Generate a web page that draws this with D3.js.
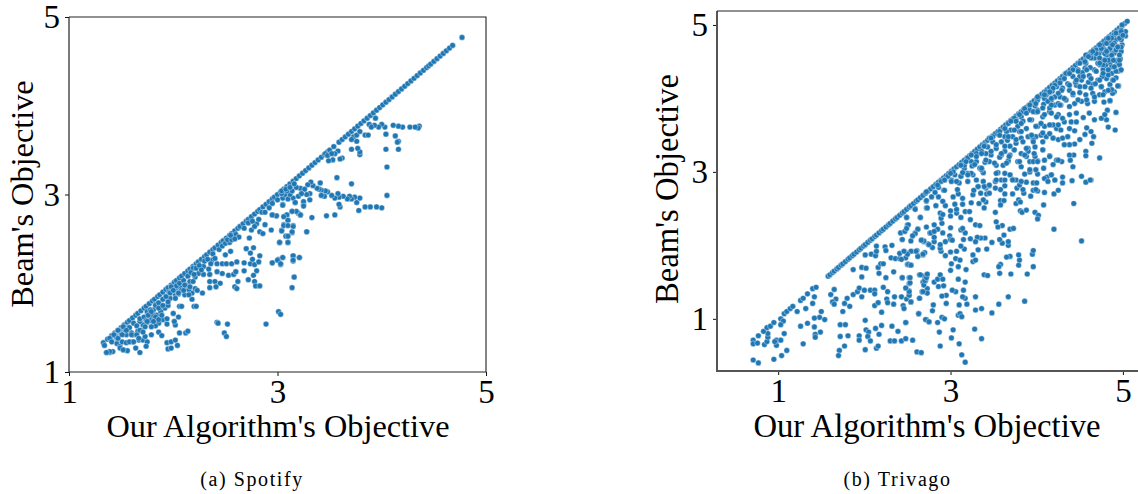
<!DOCTYPE html>
<html><head><meta charset="utf-8">
<script src="https://cdn.jsdelivr.net/npm/d3@7"></script>
<style>html,body{margin:0;padding:0;background:#fff}svg{display:block}</style>
</head><body><svg id="c" width="1138" height="494"></svg>
<script>
const xLabel = "Our Algorithm's Objective";
const yLabel = "Beam's Objective";
const tickVals = [1,3,5];
const captions = ["(a) Spotify","(b) Trivago"];

const spotifyDiagonal = [1.33,1.37,1.41,1.44,1.47,1.50,1.53,1.56,1.58,1.61,1.64,1.66,1.69,1.72,1.74,1.77,1.80,1.82,1.85,1.87,1.90,1.93,1.95,1.98,2.01,2.03,2.06,2.08,2.11,2.14,2.16,2.19,2.22,2.24,2.27,2.30,2.32,2.35,2.38,2.40,2.43,2.46,2.48,2.51,2.54,2.56,2.59,2.62,2.64,2.67,2.70,2.72,2.75,2.78,2.81,2.83,2.86,2.89,2.92,2.95,2.97,3.00,3.03,3.06,3.09,3.12,3.15,3.18,3.21,3.24,3.27,3.30,3.33,3.36,3.39,3.42,3.45,3.48,3.50,3.54,3.59,3.62,3.65,3.68,3.71,3.74,3.77,3.80,3.83,3.86,3.89,3.92,3.95,3.98,4.01,4.04,4.07,4.10,4.13,4.16,4.19,4.22,4.25,4.28,4.31,4.34,4.37,4.40,4.43,4.45,4.47,4.50,4.53,4.56,4.59,4.62,4.65,4.68,4.77];
const spotifyBelow = [[1.34,1.30],[1.36,1.22],[1.39,1.22],[1.42,1.23],[1.40,1.36],[1.44,1.42],[1.46,1.38],[1.46,1.32],[1.49,1.29],[1.51,1.34],[1.52,1.25],[1.56,1.24],[1.55,1.33],[1.61,1.34],[1.64,1.27],[1.68,1.22],[1.67,1.36],[1.71,1.36],[1.75,1.34],[1.74,1.29],[1.79,1.42],[1.86,1.45],[1.89,1.41],[1.94,1.33],[1.98,1.34],[2.02,1.36],[1.95,1.26],[1.98,1.27],[2.04,1.30],[2.06,1.44],[2.12,1.44],[2.14,1.46],[2.20,1.74],[2.22,1.74],[2.06,1.74],[2.08,1.74],[2.42,1.56],[2.43,1.55],[2.52,1.54],[2.49,1.44],[2.51,1.40],[2.89,1.54],[3.01,1.68],[3.03,1.65],[3.14,1.95],[3.16,2.07],[2.00,1.66],[2.05,1.62],[2.02,1.53],[2.01,1.57],[1.94,1.54],[1.90,1.59],[1.86,1.55],[1.83,1.52],[1.79,1.51],[1.75,1.56],[1.71,1.53],[1.68,1.57],[1.70,1.47],[1.62,1.42],[1.55,1.42],[1.52,1.47],[1.48,1.47],[1.57,1.50],[1.79,1.62],[1.84,1.64],[1.81,1.70],[1.87,1.72],[1.92,1.72],[1.95,1.75],[1.83,1.76],[1.76,1.66],[2.18,1.82],[2.28,1.89],[2.18,1.89],[2.21,1.94],[2.11,1.87],[2.02,1.87],[1.97,1.83],[2.02,1.92],[2.07,1.95],[2.15,1.93],[2.35,2.02],[2.40,2.02],[2.45,2.00],[2.35,1.95],[2.41,1.96],[2.59,1.96],[2.61,1.94],[2.62,2.02],[2.53,2.09],[2.58,2.10],[2.60,2.13],[2.47,2.11],[2.42,2.13],[2.35,2.10],[2.29,2.10],[2.24,2.11],[2.21,2.07],[2.19,2.17],[2.29,2.19],[2.34,2.16],[2.42,2.22],[2.47,2.22],[2.51,2.22],[2.56,2.22],[2.61,2.24],[2.37,2.26],[2.50,2.32],[2.55,2.36],[2.68,2.14],[2.68,2.23],[2.74,2.22],[2.78,2.21],[2.82,2.24],[2.80,2.14],[2.77,2.09],[2.72,2.04],[2.78,2.02],[2.79,1.97],[2.83,1.97],[2.95,2.23],[3.01,2.27],[3.03,2.21],[3.05,2.29],[3.15,2.31],[3.21,2.29],[3.15,2.25],[2.77,2.40],[2.70,2.39],[2.74,2.34],[2.83,2.31],[2.76,2.27],[2.73,2.51],[2.75,2.60],[2.83,2.58],[2.86,2.56],[2.94,2.60],[2.80,2.67],[2.88,2.66],[2.95,2.77],[2.99,2.76],[3.04,2.60],[3.02,2.46],[3.10,2.46],[3.09,2.53],[3.14,2.57],[3.06,2.66],[3.15,2.65],[3.10,2.71],[3.09,2.77],[3.14,2.81],[3.20,2.79],[3.22,2.77],[3.28,2.58],[3.05,2.89],[3.17,2.91],[3.25,2.89],
[4.36,3.77],[4.35,3.75],[4.32,3.76],[4.27,3.76],[4.20,3.76],[4.16,3.77],[4.11,3.78],[4.03,3.76],[4.00,3.79],[3.97,3.76],[3.93,3.78],[3.88,3.79],[3.90,3.76],[3.94,3.86],[4.04,3.68],[4.13,3.66],[4.16,3.60],[4.15,3.59],[4.16,3.51],[4.04,3.51],[4.05,3.31],[4.05,2.99],[4.00,2.85],[3.95,2.86],[3.89,2.86],[3.84,2.86],[3.78,2.82],[3.76,2.91],[3.79,2.96],[3.74,2.97],[3.71,2.95],[3.69,2.98],[3.67,2.95],[3.63,2.98],[3.59,2.97],[3.58,3.01],[3.60,2.86],[3.59,2.89],[3.55,2.96],[3.52,2.99],[3.48,3.03],[3.46,3.04],[3.42,3.05],[3.40,3.06],[3.38,3.07],[3.34,3.10],[3.32,3.14],[3.29,3.11],[3.41,3.13],[3.57,3.19],[3.71,3.12],[3.45,2.98],[3.42,2.99],[3.31,3.01],[3.31,2.94],[3.25,2.92],[3.25,2.87],[3.28,3.00],[3.20,2.98],[3.15,2.96],[3.10,2.95],[3.05,2.88],[3.05,2.96],[3.17,2.91],[3.12,3.00],[3.07,3.00],[3.04,3.01],[3.22,3.07],[3.26,3.06],[3.18,3.08],[3.14,3.04],[3.09,3.04],[3.04,3.04],[3.23,3.01],[3.47,2.76],[3.55,2.77],[3.33,2.74],[3.22,2.77],[3.18,2.81],[3.14,2.81],[3.09,2.77],[3.06,2.75],[3.10,2.71],[2.99,2.76],[2.95,2.77],[3.06,2.65],[3.10,2.65],[3.15,2.64],[3.04,2.59],[3.14,2.58],[3.28,2.58],[3.08,2.53],[3.10,2.53],[3.02,2.46],[3.10,2.46],[3.05,2.29],[3.15,2.31],[3.15,2.26],[3.21,2.29],[3.00,2.26],[3.03,2.22],[2.95,2.23],[3.16,2.07],[3.58,3.49],[3.62,3.41],[3.60,3.40],[3.53,3.39],[3.49,3.38],[3.46,3.46],[3.55,3.46],[3.71,3.51],[3.79,3.45],[3.79,3.48],[3.77,3.52],[3.76,3.60],[3.73,3.65],[3.76,3.67],[3.84,3.67],[3.87,3.67],[3.79,3.71],[3.71,3.62]];
const spotifyBand = [[1.45,1.40],[1.50,1.43],[1.54,1.47],[1.58,1.50],[1.62,1.55],[1.65,1.52],[1.68,1.60],[1.72,1.62],[1.75,1.68],[1.78,1.70],[1.80,1.65],[1.83,1.75],[1.86,1.78],[1.90,1.82],[1.93,1.85],[1.96,1.90],[2.00,1.92],[2.03,1.97],[2.06,2.00],[2.08,1.92],[2.10,2.03],[2.12,1.98],[2.14,2.08],[2.17,2.12],[2.20,2.10],[2.22,2.17],[2.25,2.20],[2.27,2.15],[2.30,2.25],[2.33,2.27],[2.36,2.22],[2.38,2.33],[2.40,2.28],[2.44,2.38],[2.47,2.42],[2.50,2.45],[2.54,2.46],[2.57,2.52],[2.60,2.55],[2.63,2.52],[2.68,2.62],[2.72,2.68],[2.76,2.70],[2.78,2.64],[2.82,2.72],[2.85,2.80],[2.88,2.80],[2.92,2.85],[2.95,2.90],[3.00,2.94],[2.52,2.49],[2.56,2.49],[2.59,2.50],[2.55,2.54],[1.98,1.96],[2.05,1.88],[2.16,2.02],[1.88,1.68],[1.74,1.58],[1.60,1.44],[1.66,1.46],[1.78,1.58],[3.08,3.06],[3.12,3.08],[3.16,3.12],[3.48,3.44],[3.52,3.46]];
const spotifyCluster = [[1.39,1.38],[1.41,1.34],[1.43,1.42],[1.47,1.47],[1.47,1.38],[1.52,1.51],[1.51,1.42],[1.55,1.47],[1.60,1.42],[1.65,1.42],[1.68,1.47],[1.73,1.51],[1.67,1.38],[1.73,1.40],[1.71,1.45],[1.58,1.34],[1.62,1.34],[1.49,1.27],[1.52,1.25],[1.39,1.23],[1.36,1.22],[1.76,1.64],[1.79,1.68],[1.83,1.62],[1.86,1.59],[1.89,1.64],[1.94,1.60],[1.81,1.57],[1.75,1.57],[1.86,1.72],[1.90,1.75],[1.95,1.79],[1.97,1.89],[2.00,1.92],[2.05,1.89],[2.10,1.92],[2.15,1.87],[2.11,1.98],[2.16,1.96],[2.19,2.02],[2.23,1.92],[2.02,1.83]];

const trivagoDiagonal = [1.58,1.60,1.63,1.65,1.68,1.70,1.73,1.75,1.78,1.81,1.83,1.86,1.88,1.91,1.94,1.96,1.99,2.01,2.04,2.07,2.09,2.12,2.14,2.17,2.20,2.22,2.25,2.28,2.30,2.33,2.36,2.38,2.41,2.44,2.46,2.49,2.52,2.54,2.57,2.60,2.62,2.65,2.68,2.71,2.74,2.77,2.80,2.83,2.86,2.89,2.92,2.95,2.98,3.01,3.04,3.07,3.10,3.13,3.16,3.19,3.22,3.25,3.28,3.31,3.34,3.37,3.40,3.43,3.46,3.49,3.52,3.55,3.58,3.61,3.64,3.67,3.70,3.73,3.76,3.79,3.82,3.85,3.88,3.91,3.94,3.97,4.00,4.03,4.06,4.09,4.12,4.15,4.18,4.21,4.24,4.27,4.30,4.33,4.36,4.39,4.42,4.45,4.48,4.51,4.54,4.57,4.60,4.63,4.66,4.69,4.72,4.75,4.78,4.81,4.84,4.87,4.90,4.93,4.96,4.99,5.02,5.05];
const trivagoLow = [[0.71,0.44],[0.77,0.40],[0.95,0.45],[1.04,0.50],[1.10,0.57],[1.29,0.66],[0.98,0.64],[0.98,0.71],[1.03,0.71],[0.96,0.69],[1.07,0.80],[0.71,0.71],[0.71,0.66],[0.76,0.67],[0.77,0.77],[0.84,0.65],[0.87,0.69],[0.88,0.75],[0.88,0.80],[0.83,0.83],[0.87,0.88],[0.91,0.90],[0.95,0.95],[1.03,1.00],[1.06,0.97],[1.03,0.92],[1.07,1.07],[1.10,1.10],[1.14,1.14],[1.17,1.17],[1.22,1.10],[1.26,1.25],[1.29,1.28],[1.34,1.34],[1.40,1.41],[1.44,1.43],[1.42,1.30],[1.40,1.21],[1.32,1.14],[1.50,1.10],[1.48,1.02],[1.42,1.01],[1.54,0.99],[1.26,0.90],[1.34,0.94],[1.42,0.89],[1.43,0.79],[1.43,0.75],[1.49,0.82],[1.65,1.40],[1.61,1.33],[1.67,1.27],[1.63,1.23],[1.65,1.20],[1.75,1.10],[1.77,1.21],[1.80,1.28],[1.83,1.17],[1.87,1.33],[1.92,1.37],[1.94,1.42],[1.97,1.30],[2.00,1.39],[2.07,1.39],[2.12,1.39],[2.12,1.34],[2.12,1.18],[2.16,1.22],[2.22,1.43],[2.27,1.37],[2.26,1.27],[2.27,1.22],[2.35,1.30],[2.34,1.20],[2.20,1.09],[2.43,1.30],[2.45,1.18],[2.46,1.14],[2.49,1.27],[2.48,1.42],[2.52,1.38],[2.52,1.32],[2.54,1.23],[2.64,1.28],[2.63,1.07],[2.72,0.99],[2.75,0.96],[2.48,0.95],[2.67,1.37],[2.70,1.54],[2.73,1.60],[2.64,1.60],[2.52,1.56],[2.52,1.48],[2.44,1.56],[2.25,1.56],[2.17,1.62],[2.34,1.64],[2.16,1.70],[2.19,1.75],[2.22,1.75],[2.50,1.74],[2.54,1.73],[1.97,1.70],[2.02,1.69],[1.87,1.67],[1.97,1.57],[2.01,1.87],[2.08,1.88],[2.13,1.86],[2.14,1.92],[2.14,1.99],[2.24,1.98],[2.25,1.93],[2.32,2.00],[2.31,1.83],[2.36,1.82],[2.41,1.82],[2.41,1.89],[2.46,1.92],[2.50,1.89],[2.55,1.92],[2.61,1.93],[2.62,1.86],[2.68,1.87],[2.70,1.90],[2.48,1.83],[2.44,2.08],[2.42,2.17],[2.47,2.19],[2.50,2.28],[2.49,2.38],[2.62,2.22],[2.59,2.17],[2.56,2.13],[2.54,2.06],[2.67,2.07],[2.69,2.05],[2.74,2.02],[2.65,2.38],[2.59,2.50],[2.72,2.60],[2.72,2.51],[2.76,2.17],[1.72,0.92],[1.78,0.92],[2.01,0.98],[2.02,0.85],[2.05,0.82],[2.13,0.87],[2.20,0.91],[2.17,0.79],[2.04,0.76],[1.94,0.77],[1.94,0.71],[2.07,0.70],[1.72,0.76],[1.81,0.77],[1.77,0.63],[1.71,0.57],[1.70,0.50],[2.01,0.58],[2.14,0.60],[2.16,0.63],[2.32,0.90],[2.39,0.83],[2.30,0.70],[2.35,0.70],[2.43,0.70],[2.48,0.73],[2.56,0.71],[2.61,0.55],[2.66,0.54],[2.70,1.58],[2.68,1.50],[2.71,1.52]];
const trivagoMid = [[3.17,0.41],[3.13,0.51],[3.10,0.66],[3.01,0.74],[2.88,0.63],[3.03,0.85],[2.87,0.82],[3.28,0.86],[3.36,0.73],[2.48,0.95],[2.63,1.07],[2.71,0.99],[2.75,0.96],[2.85,0.95],[2.90,1.02],[2.93,1.00],[3.09,1.05],[3.11,1.07],[3.13,1.03],[2.79,1.11],[2.80,1.19],[2.95,1.21],[3.10,1.19],[3.19,1.20],[3.29,1.12],[3.36,1.14],[3.48,1.08],[3.56,1.20],[3.67,1.30],[3.86,1.24],[3.29,1.30],[3.17,1.28],[3.14,1.30],[3.15,1.39],[3.06,1.37],[3.02,1.39],[2.95,1.32],[2.90,1.31],[2.64,1.28],[2.54,1.23],[2.52,1.32],[2.52,1.37],[2.48,1.42],[2.73,1.41],[2.73,1.35],[2.68,1.37],[2.53,1.49],[2.53,1.56],[2.44,1.56],[2.69,1.46],[2.70,1.52],[2.72,1.56],[2.73,1.61],[2.65,1.60],[2.81,1.50],[2.85,1.54],[2.86,1.44],[2.88,1.60],[2.91,1.54],[2.92,1.45],[3.09,1.54],[3.17,1.50],[3.18,1.67],[3.00,1.66],[3.09,1.71],[3.01,1.75],[3.06,1.82],[3.11,1.80],[3.26,1.87],[3.26,1.78],[3.29,1.80],[3.39,1.60],[3.43,1.59],[3.57,1.62],[3.70,1.61],[3.89,1.61],[3.96,1.71],[3.79,1.73],[3.80,1.80],[3.79,1.87],[3.95,1.88],[3.96,1.93],[3.69,1.85],[3.65,1.84],[3.58,1.74],[3.56,1.71],[3.32,1.94],[3.42,1.95],[3.60,2.03],[3.67,2.00],[3.67,2.05],[3.57,2.08],[3.48,2.04],[3.40,2.10],[3.35,2.10],[3.31,2.11],[3.29,2.05],[3.23,2.09],[3.15,2.08],[3.16,1.95],[3.12,1.99],[3.07,1.92],[3.00,1.91],[2.94,1.86],[2.89,1.92],[2.88,1.96],[2.94,2.05],[2.88,2.01],[2.81,2.05],[2.79,1.97],[2.75,2.01],[2.69,2.06],[2.66,2.07],[2.68,1.88],[2.62,1.85],[2.60,1.92],[2.54,1.92],[2.51,1.74],[2.54,1.73],[2.50,1.88],[2.46,1.92],[2.43,1.81],[2.81,2.11],[2.99,2.13],[3.00,2.08],[3.02,2.07],[3.17,2.17],[3.12,2.21],[3.14,2.23],[2.91,2.17],[2.85,2.22],[2.81,2.28],[2.77,2.17],[2.81,2.19],[2.72,2.25],[2.62,2.22],[2.59,2.16],[2.56,2.13],[2.51,2.28],[2.49,2.23],[2.44,2.08],[2.90,2.30],[2.89,2.37],[3.00,2.24],[2.65,2.38],[2.49,2.38],[2.88,2.44],[2.91,2.42],[3.00,2.47],[3.00,2.40],[3.07,2.44],[3.07,2.49],[3.12,2.38],[3.17,2.46],[3.22,2.46],[3.23,2.35],[3.29,2.28],[3.34,2.27],[3.53,2.32],[3.60,2.27],[3.55,2.25],[3.69,2.22],[3.73,2.23],[3.62,2.14],[3.52,2.45],[3.39,2.51],[3.41,2.59],[3.33,2.57],[3.38,2.62],[3.24,2.58],[3.05,2.56],[3.14,2.56],[2.94,2.54],[2.83,2.54],[2.73,2.51],[2.72,2.61],[2.59,2.49],[2.91,2.60],[2.86,2.66],[3.03,2.66],[3.09,2.70],[3.14,2.64],[3.26,2.69],[3.35,2.71],[3.42,2.70],[3.45,2.71],[3.63,2.70],[3.58,2.61],[3.62,2.61],[3.58,2.55],[3.76,2.57],[3.79,2.62],[3.81,2.59],[3.72,2.70],[3.85,2.71],[3.93,2.67],[4.09,2.72],[4.20,2.70],[4.25,2.75],[3.96,2.75],[4.01,2.74],[3.84,2.76],[3.77,2.78],[3.63,2.81],[3.58,2.76],[3.52,2.78],[3.41,2.78],[3.27,2.75],[3.32,2.80],[3.40,2.80],[2.92,2.75],[3.08,2.76],[3.81,2.47],[3.83,2.45],[3.88,2.48],[3.98,2.45],[4.08,2.55],[4.02,2.41],[4.01,2.36],[4.20,2.22],[4.52,2.06],[4.43,2.57],[4.41,2.88],[4.52,2.94],[4.57,2.86],[4.63,2.89],[4.30,2.93],[4.30,2.85],[4.21,2.89],[4.17,2.96],[4.12,2.93],[4.01,2.97],[3.96,2.85],[4.00,2.85],[3.88,2.86],[3.80,2.82],[3.72,2.90],[3.76,2.89],[3.69,2.96],[3.59,2.89],[3.52,2.87],[3.45,2.81],[3.38,2.87],[3.30,2.89],[3.20,2.87],[3.26,2.96],[3.20,2.98],[3.12,2.94],[3.10,2.85],[3.01,2.89],[2.93,2.89],[2.86,2.79],[2.72,2.73],[3.55,2.99],[3.63,2.98],[3.38,2.99],[3.86,2.97],[3.92,3.00]];
const trivagoUpper = [[4.91,3.57],[4.83,3.61],[4.81,3.71],[4.92,3.81],[4.82,3.84],[4.85,3.97],[4.78,3.95],[4.95,4.17],[4.90,4.09],[4.88,4.07],[4.97,4.38],[4.97,4.54],[4.98,4.64],[4.99,4.73],[5.03,4.85],[5.03,4.91],[4.99,5.00],[4.73,3.19],[4.62,2.89],[4.57,3.28],[4.57,3.22],[4.42,3.07],[4.39,3.16],[4.43,3.23],[4.38,3.23],[4.64,3.39],[4.66,3.48],[4.63,3.55],[4.58,3.60],[4.56,3.51],[4.50,3.44],[4.44,3.38],[4.38,3.37],[4.32,3.37],[4.29,3.14],[4.23,3.16],[4.19,3.10],[4.15,3.22],[4.09,3.16],[4.08,3.05],[3.99,3.03],[3.92,3.03],[4.01,3.15],[4.07,3.30],[3.98,3.21],[3.88,3.21],[3.92,3.14],[3.82,3.07],[3.78,3.14],[3.67,3.15],[3.61,3.09],[3.53,2.98],[3.69,2.96],[3.72,2.89],[3.63,2.89],[3.53,2.89],[3.45,2.82],[3.39,2.80],[3.32,2.80],[3.82,2.87],[3.99,2.76],[4.09,2.91],[4.17,2.96],[4.21,2.89],[4.13,2.87],[3.45,3.14],[3.53,3.09],[3.63,3.28],[3.69,3.23],[3.47,3.23],[3.41,3.25],[3.36,3.28],[3.43,3.34],[3.34,3.05],[3.24,2.98],[3.36,3.03],[3.20,2.96],[3.16,3.05],[3.30,3.14],[3.24,3.14],[3.16,3.09],[3.12,2.94],[3.05,2.96],[3.01,2.87],[2.93,2.75],[2.89,2.87],[2.97,2.94],[2.85,2.82],[3.07,2.87],[3.76,3.39],[3.82,3.46],[3.72,3.48],[3.80,3.55],[3.70,3.57],[3.65,3.55],[3.59,3.41],[3.63,3.48],[3.90,3.32],[3.98,3.34],[3.90,3.28],[4.07,3.41],[3.99,3.48],[3.90,3.48],[3.96,3.44],[4.05,3.50],[4.11,3.48],[4.19,3.46],[4.25,3.44],[4.30,3.46],[4.36,3.48],[4.15,3.52],[4.23,3.59],[4.28,3.57],[4.38,3.59],[4.44,3.56],[4.32,3.68],[4.40,3.68],[4.46,3.68],[4.54,3.74],[4.61,3.80],[4.67,3.71],[4.75,3.73],[4.79,3.78],[4.46,3.80],[4.38,3.78],[4.30,3.73],[4.25,3.78],[4.15,3.82],[4.07,3.75],[3.99,3.82],[3.94,3.71],[4.01,3.84],[3.92,3.84],[3.82,3.75],[3.76,3.71],[4.19,3.64],[4.09,3.62],[4.01,3.62],[4.67,3.96],[4.59,3.93],[4.52,3.96],[4.44,3.93],[4.38,3.89],[4.28,3.91],[4.21,3.91],[4.15,3.87],[4.09,4.00],[4.01,3.98],[4.17,3.98],[4.34,3.98],[4.27,4.02],[4.42,4.05],[4.50,4.08],[4.57,4.05],[4.65,4.07],[4.73,4.05],[4.79,4.09],[4.38,4.11],[4.30,4.14],[4.23,4.16],[4.15,4.08],[4.46,4.18],[4.56,4.16],[4.65,4.19],[4.75,4.16],[4.85,4.19],[4.87,4.12],[4.81,4.27],[4.88,4.25],[4.71,4.25],[4.61,4.31],[4.52,4.25],[4.42,4.30],[4.34,4.34],[4.48,4.39],[4.56,4.41],[4.67,4.39],[4.77,4.39],[4.87,4.34],[4.94,4.37],[4.73,4.46],[4.85,4.48],[4.94,4.46],[4.94,4.52],[4.87,4.57],[4.77,4.52],[4.67,4.55],[4.75,4.64],[4.85,4.66],[4.94,4.71],[4.83,4.75],[4.92,4.80],[4.87,4.84],[4.96,4.89],[4.98,4.80],[4.98,4.93],[4.77,4.73],[4.69,4.66],[4.63,4.59],[4.57,4.48],[4.81,4.59],[4.90,4.62],[4.90,4.73],[4.57,4.59],[4.50,4.48],[4.42,4.39],[4.28,4.25],[4.21,4.18],[4.11,4.09],[4.01,4.02],[3.92,3.91],[3.84,3.82],[3.74,3.73],[3.67,3.66],[3.57,3.55],[3.49,3.48],[3.39,3.37],[3.30,3.25],[3.20,3.19],[3.12,3.09],[3.03,3.00],[2.93,2.89],[3.84,3.69],[3.88,3.59],[3.53,3.32],[3.59,3.23],[3.74,3.30],[3.82,3.25],[3.69,3.35],[3.49,3.41],[3.45,3.46],
[4.72,4.60],[4.79,4.66],[4.85,4.78],[4.90,4.87],[4.80,4.45],[4.71,4.48],[4.83,4.32],[4.92,4.28],[4.76,4.30],[4.68,4.20],[4.60,4.22],[4.50,4.30],[4.62,4.42],[4.53,4.35],[4.45,4.22],[4.36,4.20],[4.18,4.10],[4.08,3.92],[3.98,3.90],[3.86,3.86],[3.78,3.62],[3.66,3.43],[3.57,3.20],[3.40,3.13],[3.25,3.08],[3.14,2.99],[3.00,2.98],[2.82,2.72],[2.78,2.66]];
const trivagoCorner = [[4.92,4.89],[4.87,4.82],[4.96,4.82],[4.81,4.75],[4.90,4.75],[4.98,4.70],[4.75,4.68],[4.85,4.68],[4.92,4.66],[4.69,4.61],[4.79,4.61],[4.87,4.59],[4.96,4.59],[4.63,4.55],[4.73,4.55],[4.83,4.52],[4.92,4.51],[4.56,4.50],[4.77,4.46],[4.87,4.43],[4.96,4.46],[4.58,4.39],[4.69,4.37],[4.77,4.34],[4.92,4.37],[4.98,4.39],[4.48,4.37],[4.38,4.34],[4.54,4.30],[4.63,4.27],[4.46,4.25],[4.73,4.25],[4.89,4.25],[4.32,4.27],[4.27,4.21],[4.38,4.18],[4.50,4.16],[4.63,4.14],[4.75,4.16],[4.94,4.17],[4.83,4.11],[4.19,4.14],[4.29,4.11],[4.42,4.07],[4.67,4.02],[4.77,4.05],[4.11,4.05],[4.21,4.02],[4.32,4.00],[4.48,3.98],[4.58,3.98],[4.85,3.97],[4.13,3.96],[4.25,3.93],[4.98,4.91],[5.00,4.86],[4.83,4.82],[4.73,4.73],[4.65,4.64],[4.60,4.57],[4.88,4.73],[4.94,4.70],[4.81,4.64],[4.89,4.52],[4.79,4.52],[4.73,4.48],[4.96,4.52],[4.90,4.43],[4.83,4.39]];
const trivagoShoulder = [[4.15,4.09],[4.09,4.05],[4.17,4.00],[4.25,4.07],[3.99,3.93],[4.07,3.87],[4.17,3.91],[4.27,3.91],[3.96,3.82],[4.01,3.82],[4.09,3.78],[4.17,3.80],[4.23,3.75],[3.88,3.80],[3.80,3.78],[3.92,3.71],[3.76,3.69],[3.82,3.66],[3.99,3.62],[4.05,3.66],[4.15,3.64],[4.25,3.64],[3.70,3.69],[3.63,3.59],[3.74,3.57],[3.82,3.55],[3.94,3.50],[4.07,3.53],[4.19,3.46],[3.57,3.50],[3.67,3.48],[3.76,3.44],[3.84,3.41],[3.96,3.41],[4.07,3.30],[3.47,3.46],[3.53,3.37],[3.63,3.35],[3.74,3.30],[3.88,3.32],[3.97,3.25],[4.15,3.21],[4.25,3.16],[3.39,3.35],[3.47,3.28],[3.59,3.25],[3.68,3.21],[3.86,3.23],[3.36,3.25],[3.30,3.21],[3.24,3.23],[3.18,3.14],[3.41,3.16],[3.51,3.12],[3.65,3.12],[3.80,3.14],[3.96,3.14],[3.28,3.10],[3.36,3.05],[4.01,3.14]];

const panels = [
  {sets:[spotifyDiagonal.map(v=>[v,v]),spotifyBelow,spotifyBand,spotifyCluster], x0:69,x1:486,y0:372,y1:17,
   xd:[1,5], yd:[1,5], cap:captions[0], capX:252, labX:278, labY:194, labBase:33, fs:32.3, ink:"#222", sw:1.2},
  {sets:[trivagoDiagonal.map(v=>[v,v]),trivagoLow,trivagoMid,trivagoUpper,trivagoCorner,trivagoShoulder], x0:717,x1:1141,y0:371,y1:11,
   xd:[0.29,5.21], yd:[0.29,5.19], cap:captions[1], capX:897.5, labX:927, labY:189, labBase:678, fs:32.7, ink:"#555", sw:2}
];
const svg = d3.select("#c");
panels.forEach(p=>{
  const x = d3.scaleLinear().domain(p.xd).range([p.x0,p.x1]);
  const y = d3.scaleLinear().domain(p.yd).range([p.y0,p.y1]);
  const g = svg.append("g");
  const pts = p.sets.flat();
  g.selectAll("circle").data(pts).join("circle")
    .attr("cx",d=>x(d[0])).attr("cy",d=>y(d[1])).attr("r",2.85)
    .attr("fill","#1f77b4").attr("stroke","#fff").attr("stroke-width",0.5).attr("stroke-opacity",0.75);
  const ax = svg.append("g").attr("transform",`translate(0,${p.y0})`)
    .call(d3.axisBottom(x).tickValues(tickVals).tickFormat(d3.format("d")).tickSize(4).tickPadding(4));
  const ay = svg.append("g").attr("transform",`translate(${p.x0},0)`)
    .call(d3.axisLeft(y).tickValues(tickVals).tickFormat(d3.format("d")).tickSize(4).tickPadding(5));
  [ax,ay].forEach(a=>{
    a.selectAll("path").remove();
    a.selectAll("line").attr("stroke","#111").attr("stroke-width",1);
    a.selectAll("text").attr("font-family","'Liberation Serif'").attr("font-size",33).attr("fill","#000");
  });
  svg.append("path").attr("d",`M${p.x0},${p.y1}V${p.y0}H${p.x1}`).attr("fill","none").attr("stroke",p.ink).attr("stroke-width",p.sw);
  svg.append("path").attr("d",`M${p.x0},${p.y1}H${p.x1}V${p.y0}`).attr("fill","none").attr("stroke","#222").attr("stroke-width",1.1);
  svg.append("text").attr("x",p.labX).attr("y",437).attr("text-anchor","middle")
    .attr("font-family","'Liberation Serif'").attr("font-size",p.fs).text(xLabel);
  svg.append("text").attr("transform",`translate(${p.labBase},${p.labY}) rotate(-90)`).attr("text-anchor","middle")
    .attr("font-family","'Liberation Serif'").attr("font-size",p.fs).text(yLabel);
  svg.append("text").attr("x",p.capX).attr("y",486).attr("text-anchor","middle")
    .attr("font-family","'Liberation Serif'").attr("font-size",20).attr("letter-spacing",1.6).text(p.cap);
});
</script></body></html>
